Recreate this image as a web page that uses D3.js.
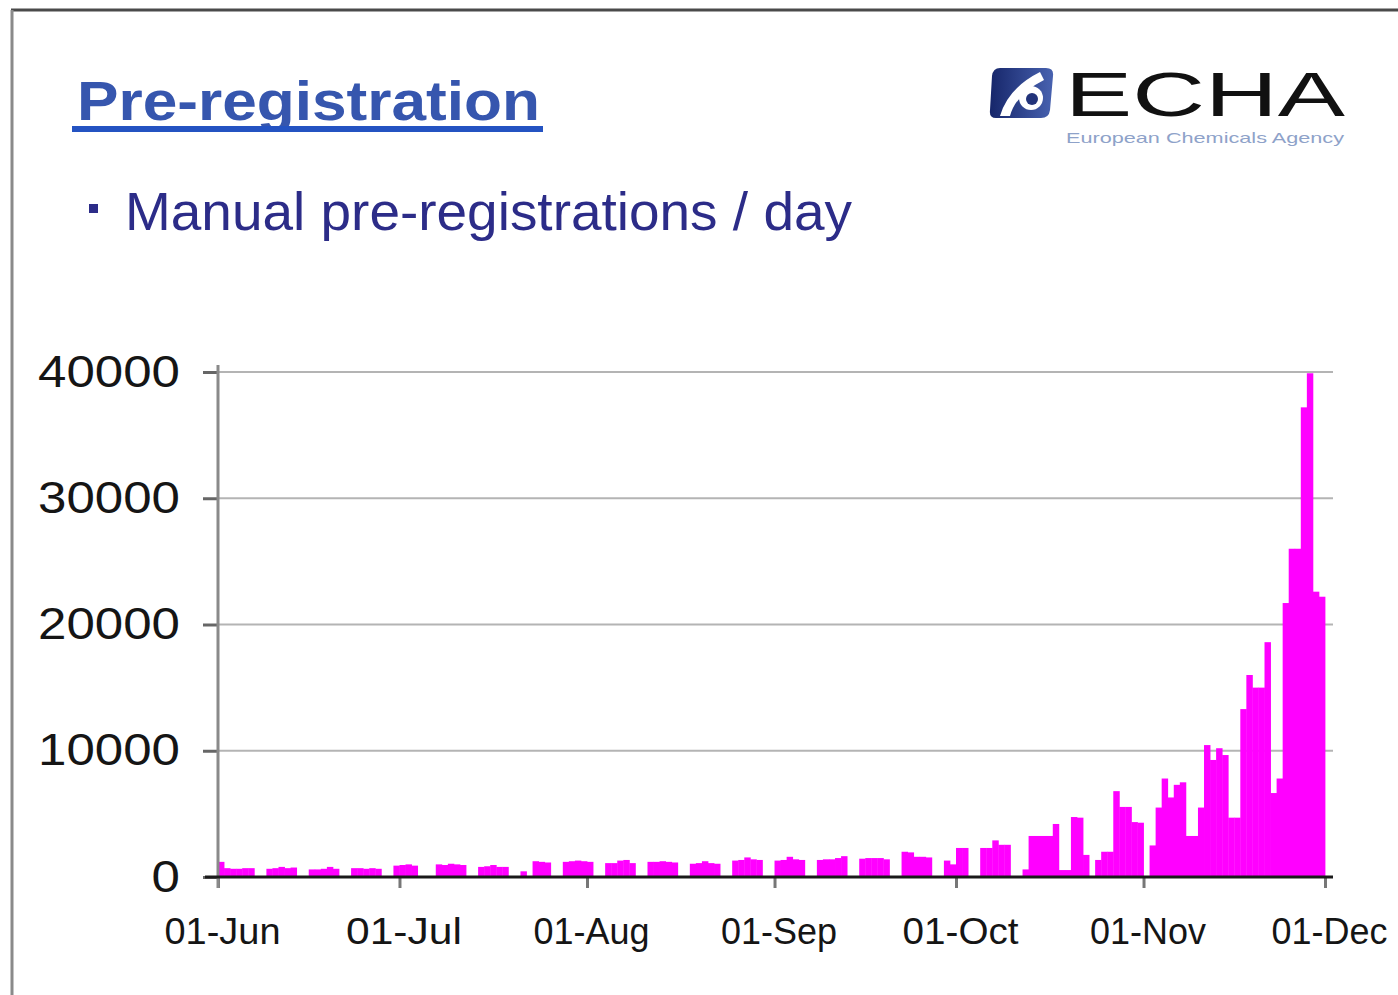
<!DOCTYPE html>
<html>
<head>
<meta charset="utf-8">
<script src="https://cdn.jsdelivr.net/npm/d3@7"></script>
<style>
  body { margin: 0; background: #fff; }
  svg { display: block; font-family: Arial, "Liberation Sans", sans-serif; }
</style>
</head>
<body>
<div id="chart"></div>
<script>
// manual pre-registrations per day, one array per month (2008)
var juneValues = [1200, 700, 650, 650, 700, 700, 0, 0, 650, 700, 800, 700, 750, 0, 0,
  600, 600, 650, 800, 650, 0, 0, 700, 700, 650, 700, 650, 0, 0, 900];
var julyValues = [950, 1000, 900, 0, 0, 0, 1000, 950, 1050, 1000, 950, 0, 0, 800, 850,
  950, 800, 800, 0, 0, 450, 0, 1250, 1200, 1150, 0, 0, 1200, 1250, 1300, 1250];
var augustValues = [1200, 0, 0, 1100, 1100, 1300, 1350, 1100, 0, 0, 1200, 1200, 1250, 1200, 1150,
  0, 0, 1050, 1100, 1250, 1100, 1050, 0, 0, 1300, 1350, 1550, 1400, 1350, 0, 0];
var septemberValues = [1300, 1350, 1600, 1400, 1350, 0, 0, 1350, 1400, 1400, 1500, 1650, 0, 0, 1450,
  1500, 1500, 1500, 1400, 0, 0, 2000, 1950, 1600, 1600, 1550, 0, 0, 1300, 1000];
var octoberValues = [2300, 2300, 0, 0, 2300, 2300, 2900, 2550, 2550, 0, 0, 600, 3250, 3250, 3250,
  3250, 4200, 550, 550, 4750, 4700, 1750, 0, 1350, 2000, 2000, 6800, 5550, 5550, 4350, 4300];
var novemberValues = [0, 2500, 5500, 7800, 6300, 7300, 7500, 3250, 3250, 5500, 10450, 9270, 10200, 9660, 4700,
  4700, 13300, 16000, 15000, 15000, 18600, 6650, 7800, 21700, 26000, 26000, 37200, 39900, 22600, 22200];

var months = [
  {start: '2008-06-01', values: juneValues},
  {start: '2008-07-01', values: julyValues},
  {start: '2008-08-01', values: augustValues},
  {start: '2008-09-01', values: septemberValues},
  {start: '2008-10-01', values: octoberValues},
  {start: '2008-11-01', values: novemberValues}
];
var yTicks = [0, 10000, 20000, 30000, 40000];
var xTickLabels = ['01-Jun', '01-Jul', '01-Aug', '01-Sep', '01-Oct', '01-Nov', '01-Dec'];

var parseDate = d3.timeParse('%Y-%m-%d');
var days = [];
months.forEach(function(m) {
  var start = parseDate(m.start);
  m.values.forEach(function(v, i) {
    days.push({date: d3.timeDay.offset(start, i), value: v});
  });
});

var W = 1398, H = 995;
var svg = d3.select('#chart').append('svg')
  .attr('width', W)
  .attr('height', H);

// slide frame
svg.append('line')
  .attr('x1', 11).attr('y1', 10).attr('x2', W).attr('y2', 10)
  .attr('stroke', '#4a4a4a').attr('stroke-width', 3);
svg.append('line')
  .attr('x1', 12).attr('y1', 10).attr('x2', 12).attr('y2', H)
  .attr('stroke', '#8a8a8a').attr('stroke-width', 3);

// title
svg.append('text')
  .attr('x', 77).attr('y', 120)
  .attr('font-size', 56)
  .attr('font-weight', 'bold')
  .attr('fill', '#3656ae')
  .attr('textLength', 463)
  .attr('lengthAdjust', 'spacingAndGlyphs')
  .text('Pre-registration');
svg.append('rect')
  .attr('x', 72).attr('y', 126)
  .attr('width', 471).attr('height', 6)
  .attr('fill', '#2453c2');

// subtitle
svg.append('rect')
  .attr('x', 89).attr('y', 204)
  .attr('width', 9).attr('height', 9)
  .attr('fill', '#2c2c88');
svg.append('text')
  .attr('x', 125).attr('y', 230)
  .attr('font-size', 54)
  .attr('fill', '#2c2c88')
  .attr('textLength', 727)
  .attr('lengthAdjust', 'spacingAndGlyphs')
  .text('Manual pre-registrations / day');

// ECHA logo
var defs = svg.append('defs');
var grad = defs.append('linearGradient')
  .attr('id', 'logoGrad')
  .attr('x1', 0).attr('y1', 0).attr('x2', 1).attr('y2', 0);
grad.append('stop').attr('offset', 0).attr('stop-color', '#16266a');
grad.append('stop').attr('offset', 1).attr('stop-color', '#4862b0');
var logo = svg.append('g');
logo.append('path')
  .attr('d', 'M1000,68 L1046,68 Q1054,68 1053,76 L1050,110 Q1049,118 1041,118 L996,118 Q989,118 990,110 L992,76 Q993,68 1000,68 Z')
  .attr('fill', 'url(#logoGrad)');
logo.append('path')
  .attr('d', 'M1000,116 Q1008,88 1040,72 L1044,80 Q1016,94 1010,116 Z')
  .attr('fill', '#fff');
logo.append('circle')
  .attr('cx', 1031).attr('cy', 98).attr('r', 12)
  .attr('fill', '#fff');
logo.append('circle')
  .attr('cx', 1032).attr('cy', 99).attr('r', 6)
  .attr('fill', '#22337a');
logo.append('text')
  .attr('x', 1065).attr('y', 116)
  .attr('font-size', 63)
  .attr('fill', '#111')
  .attr('textLength', 280)
  .attr('lengthAdjust', 'spacingAndGlyphs')
  .text('ECHA');
logo.append('text')
  .attr('x', 1066).attr('y', 143)
  .attr('font-size', 15)
  .attr('fill', '#8ea2c9')
  .attr('textLength', 278)
  .attr('lengthAdjust', 'spacingAndGlyphs')
  .text('European Chemicals Agency');

// chart
var x = d3.scaleTime()
  .domain([parseDate('2008-06-01'), parseDate('2008-12-01')])
  .range([218, 1325]);
var y = d3.scaleLinear()
  .domain([0, 40000])
  .range([877, 372]);

svg.append('g')
  .selectAll('line')
  .data(yTicks.filter(function(d) { return d > 0; }))
  .enter().append('line')
  .attr('x1', 218).attr('x2', 1333)
  .attr('y1', function(d) { return y(d); })
  .attr('y2', function(d) { return y(d); })
  .attr('stroke', '#b4b4b4')
  .attr('stroke-width', 2);

svg.append('g')
  .selectAll('rect')
  .data(days)
  .enter().append('rect')
  .attr('x', function(d) { return x(d.date); })
  .attr('width', function(d) { return x(d3.timeDay.offset(d.date, 1)) - x(d.date) + 0.4; })
  .attr('y', function(d) { return y(d.value); })
  .attr('height', function(d) { return y(0) - y(d.value); })
  .attr('fill', '#ff00ff');

var yAxis = svg.append('g')
  .attr('transform', 'translate(218,0)')
  .call(d3.axisLeft(y).tickValues(yTicks).tickSize(15).tickPadding(23).tickFormat(d3.format('d')));
yAxis.select('.domain').remove();
yAxis.selectAll('.tick line').attr('stroke', '#666').attr('stroke-width', 3);
yAxis.selectAll('.tick text')
  .attr('font-size', 44)
  .attr('font-family', 'Arial, "Liberation Sans", sans-serif')
  .attr('fill', '#151515')
  .attr('textLength', function(d) { return String(d).length * 28.4; })
  .attr('lengthAdjust', 'spacingAndGlyphs');

var xAxis = svg.append('g')
  .attr('transform', 'translate(0,877)')
  .call(d3.axisBottom(x)
    .ticks(d3.timeMonth.every(1))
    .tickSize(11)
    .tickPadding(30)
    .tickFormat(function(d, i) { return xTickLabels[i]; }));
xAxis.select('.domain').remove();
xAxis.selectAll('.tick line').attr('stroke', '#777').attr('stroke-width', 3);
xAxis.selectAll('.tick text')
  .attr('font-size', 36)
  .attr('font-family', 'Arial, "Liberation Sans", sans-serif')
  .attr('fill', '#151515')
  .attr('dx', 4)
  .attr('textLength', 116)
  .attr('lengthAdjust', 'spacingAndGlyphs');

// axis lines
svg.append('line')
  .attr('x1', 218).attr('x2', 218).attr('y1', 365).attr('y2', 888)
  .attr('stroke', '#8a8a8a').attr('stroke-width', 3);
svg.append('line')
  .attr('x1', 205).attr('x2', 1333).attr('y1', 877).attr('y2', 877)
  .attr('stroke', '#1a1a1a').attr('stroke-width', 3);
</script>
</body>
</html>
